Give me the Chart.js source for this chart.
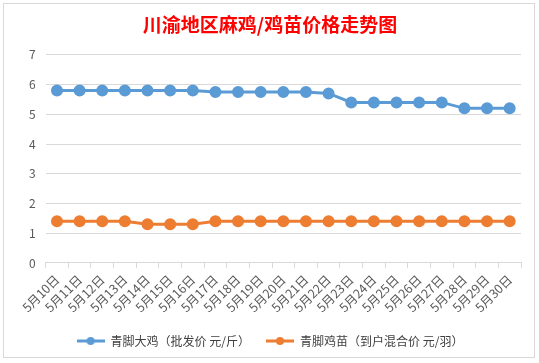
<!DOCTYPE html>
<html>
<head>
<meta charset="utf-8">
<script src="https://cdn.jsdelivr.net/npm/chart.js@4/dist/chart.umd.min.js"></script>
<style>
  html, body { margin: 0; padding: 0; background: #ffffff; }
  .box { position: absolute; left: 3px; top: 3px; width: 532px; height: 355px; border: 1px solid #d9d9d9; box-sizing: border-box; }
  canvas { position: absolute; left: 0; top: 0; }
</style>
</head>
<body>
<div class="box"></div>
<canvas id="myChart" width="539" height="363"></canvas>
<script>
const labels = ['5月10日','5月11日','5月12日','5月13日','5月14日','5月15日','5月16日','5月17日','5月18日','5月19日','5月20日',
  '5月21日','5月22日','5月23日','5月24日','5月25日','5月26日','5月27日','5月28日','5月29日','5月30日'];
const daJi = [5.8,5.8,5.8,5.8,5.8,5.8,5.8,5.75,5.75,5.75,5.75,5.75,5.7,5.4,5.4,5.4,5.4,5.4,5.2,5.2,5.2];
const jiMiao = [1.4,1.4,1.4,1.4,1.3,1.3,1.3,1.4,1.4,1.4,1.4,1.4,1.4,1.4,1.4,1.4,1.4,1.4,1.4,1.4,1.4];
const seriesNames = ['青脚大鸡（批发价 元/斤）', '青脚鸡苗（到户混合价 元/羽）'];
const yTicks = [0,1,2,3,4,5,6,7];

const font = "'Noto Sans CJK SC', 'Noto Sans', sans-serif";

// legend swatch: line with dot, like excel
const swatch = (color) => {
  const c = document.createElement('canvas');
  c.width = 28; c.height = 10;
  const g = c.getContext('2d');
  g.strokeStyle = color; g.lineWidth = 3;
  g.beginPath(); g.moveTo(0, 5); g.lineTo(28, 5); g.stroke();
  g.fillStyle = color;
  g.beginPath(); g.arc(14, 5, 4, 0, Math.PI * 2); g.fill();
  return c;
}

const ctx = document.getElementById('myChart');
new Chart(ctx, {
  type: 'line',
  data: {
    labels: labels,
    datasets: [{
      label: seriesNames[0],
      data: daJi,
      borderColor: '#5b9bd5',
      backgroundColor: '#5b9bd5',
      borderWidth: 3,
      pointRadius: 4.5,
      pointStyle: 'circle'
    }, {
      label: seriesNames[1],
      data: jiMiao,
      borderColor: '#ed7d31',
      backgroundColor: '#ed7d31',
      borderWidth: 3,
      pointRadius: 4.5,
      pointStyle: 'circle'
    }]
  },
  options: {
    responsive: false,
    animation: false,
    layout: { padding: { left: 19, right: 18, top: 4, bottom: 6 } },
    plugins: {
      title: {
        display: true,
        text: '川渝地区麻鸡/鸡苗价格走势图',
        color: '#ff0000',
        font: { family: font, size: 19, weight: 'bold' },
        padding: { top: 9, bottom: 19 }
      },
      legend: {
        position: 'bottom',
        labels: {
          usePointStyle: true,
          pointStyleWidth: 28,
          color: '#404040',
          font: { family: font, size: 12 },
          padding: 16,
          generateLabels: (chart) => chart.data.datasets.map((d, i) => ({
            text: d.label,
            pointStyle: swatch(d.borderColor),
            fillStyle: d.borderColor,
            strokeStyle: d.borderColor,
            lineWidth: 0,
            fontColor: '#404040',
            datasetIndex: i
          }))
        }
      },
      tooltip: { enabled: false }
    },
    scales: {
      x: {
        offset: true,
        grid: { display: true, drawOnChartArea: false, offset: true, color: '#d9d9d9', tickLength: 5 },
        border: { color: '#d9d9d9' },
        ticks: { color: '#595959', font: { family: font, size: 12.5 }, minRotation: 45, maxRotation: 45, autoSkip: false, padding: 4 }
      },
      y: {
        min: 0, max: 7,
        afterBuildTicks: (axis) => { axis.ticks = yTicks.map(v => ({ value: v })); },
        grid: { color: '#d9d9d9', drawTicks: false },
        border: { display: false },
        ticks: { color: '#595959', font: { family: font, size: 12 }, padding: 10 }
      }
    }
  }
});
</script>
</body>
</html>
